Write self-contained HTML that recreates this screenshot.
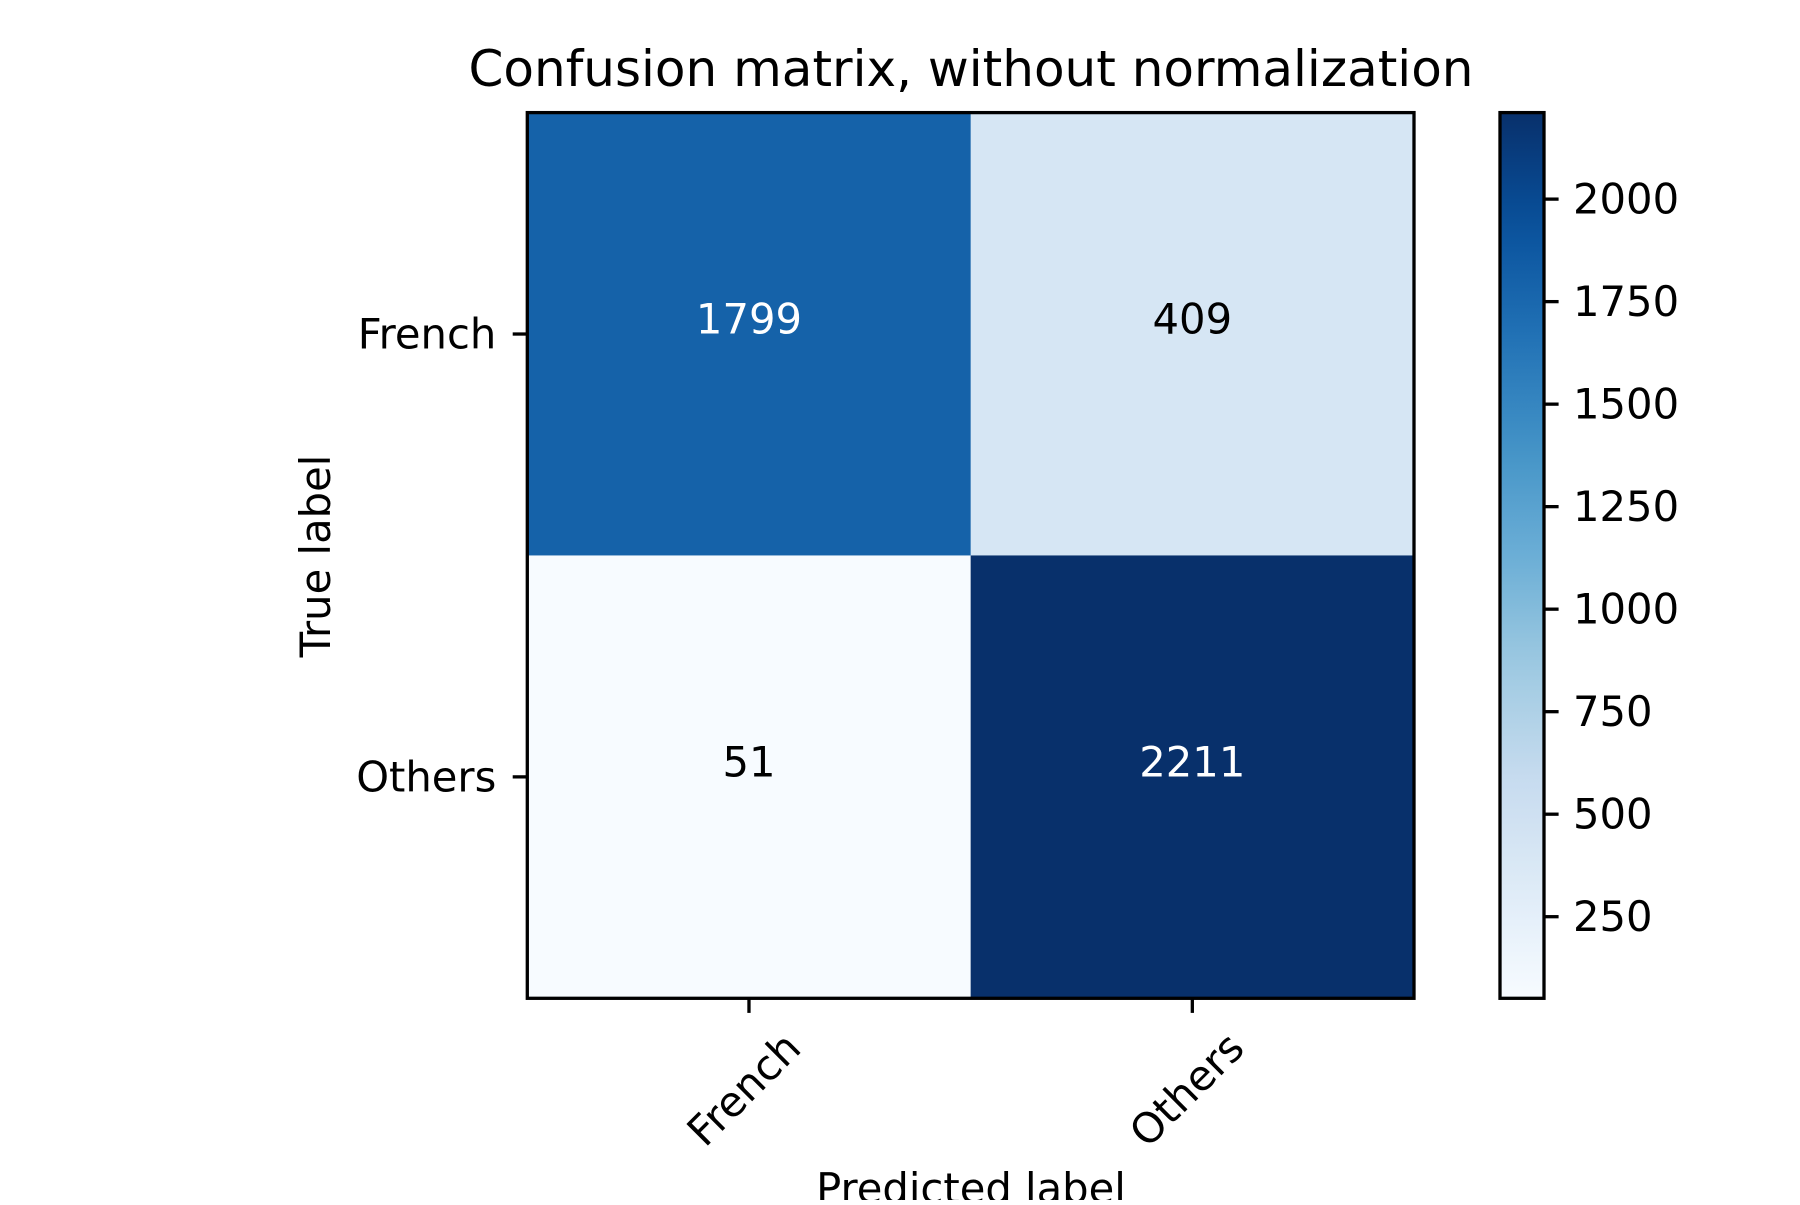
<!DOCTYPE html>
<html><head><meta charset="utf-8"><style>
html,body{margin:0;padding:0;background:#fff;}
svg text{font-family:"DejaVu Sans","Liberation Sans",sans-serif;}
</style></head><body>
<svg id="chart" width="1800" height="1200" xmlns="http://www.w3.org/2000/svg">
<text x="971" y="86" font-size="50" text-anchor="middle">Confusion matrix, without normalization</text>
<g id="cells"></g>
<g id="axes"></g>
<defs><linearGradient id="cbgrad" x1="0" y1="1" x2="0" y2="0"></linearGradient></defs>
<g id="cbar"></g>
<text transform="translate(330,556) rotate(-90)" font-size="41.7" text-anchor="middle">True label</text>
<text x="971" y="1203" font-size="41.7" text-anchor="middle">Predicted label</text>
</svg>
<script>
const classes = ["French", "Others"];
const row0 = [1799, 409];
const row1 = [51, 2211];
const cbTicks = [250, 500, 750, 1000, 1250, 1500, 1750, 2000];

const matrix = [row0, row1];
const NS = "http://www.w3.org/2000/svg";
const L = 527.3, T = 112.6, R = 1414, B = 998.3;
const n = classes.length;
const cw = (R - L) / n, ch = (B - T) / n;
const all = matrix.flat();
const vmin = Math.min(...all), vmax = Math.max(...all);
const blues = ["#f7fbff","#deebf7","#c6dbef","#9ecae1","#6baed6","#4292c6","#2171b5","#08519c","#08306b"];
function hex(h){return [1,3,5].map(i=>parseInt(h.substr(i,2),16));}
function cmap(t){
  t = Math.max(0, Math.min(1, t));
  const p = t * (blues.length - 1), i = Math.min(Math.floor(p), blues.length - 2), f = p - i;
  const a = hex(blues[i]), b = hex(blues[i+1]);
  return "rgb(" + a.map((v,k)=>Math.round(v + (b[k]-v)*f)).join(",") + ")";
}
function norm(v){return (v - vmin) / (vmax - vmin);}
function el(tag, attrs, parent){const e=document.createElementNS(NS,tag);for(const k in attrs)e.setAttribute(k,attrs[k]);parent.appendChild(e);return e;}

const cells = document.getElementById("cells");
const thresh = vmax / 2;
for (let r = 0; r < n; r++) for (let c = 0; c < n; c++) {
  const v = matrix[r][c];
  const rect = el("rect", {x: L + c*cw, y: T + r*ch, width: cw + 0.5, height: ch + 0.5, fill: cmap(norm(v))}, cells);
  
  
  const t = el("text", {x: L + (c+0.5)*cw, y: T + (r+0.5)*ch - 15, "font-size": 41.7, "text-anchor": "middle", "dominant-baseline": "central", fill: v > thresh ? "#fff" : "#000"}, cells);
  
  
  t.textContent = v;
}
const axes = document.getElementById("axes");
const frame = el("rect", {x: L, y: T, width: R-L, height: B-T, fill: "none", stroke: "#000", "stroke-width": 3.3}, axes);


for (let i = 0; i < n; i++) {
  const yc = T + (i+0.5)*ch, xc = L + (i+0.5)*cw;
  el("line", {x1: L-14.6, x2: L, y1: yc, y2: yc, stroke: "#000", "stroke-width": 3.3}, axes);
  const yl = el("text", {x: L-31, y: yc, "font-size": 41.7, "text-anchor": "end", "dominant-baseline": "central"}, axes);
  
  
  yl.textContent = classes[i];
  el("line", {x1: xc, x2: xc, y1: B, y2: B+14.6, stroke: "#000", "stroke-width": 3.3}, axes);
  const xl = el("text", {transform: "translate(" + (xc+32) + "," + (B+30) + ") rotate(-45)", "font-size": 41.7, "text-anchor": "end", "dominant-baseline": "hanging"}, axes);
  
  
  xl.textContent = classes[i];
}
const grad = document.getElementById("cbgrad");
for (let i = 0; i <= 20; i++) el("stop", {offset: (i/20), "stop-color": cmap(i/20)}, grad);
const cb = document.getElementById("cbar");
const CL = 1500, CR = 1544;
const cbRect = el("rect", {x: CL, y: T, width: CR-CL, height: B-T, fill: "url(#cbgrad)", stroke: "#000", "stroke-width": 3.3}, cb);


function cy(v){return B - norm(v) * (B - T);}
cbTicks.forEach(v => {
  const y = cy(v);
  el("line", {x1: CR, x2: CR+14.6, y1: y, y2: y, stroke: "#000", "stroke-width": 3.3}, cb);
  const t = el("text", {x: CR+29, y: y, "font-size": 41.7, "dominant-baseline": "central"}, cb);
  
  
  t.textContent = v;
});
</script>
</body></html>
